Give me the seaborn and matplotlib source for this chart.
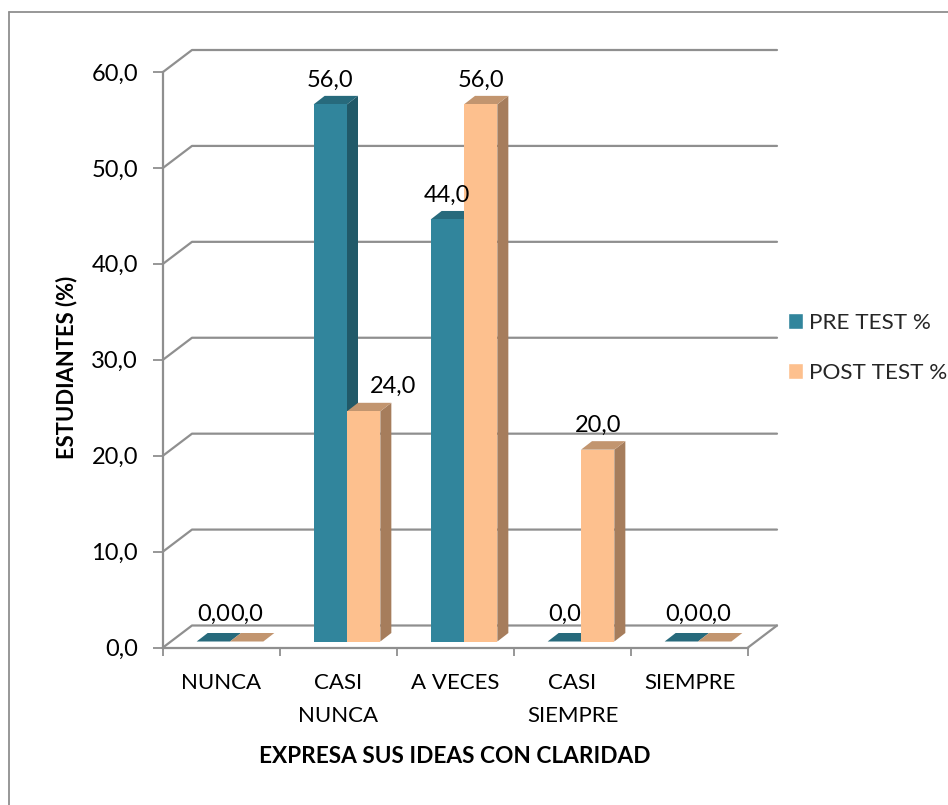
import numpy as np
import pandas as pd
import seaborn as sns
import matplotlib.pyplot as plt
from matplotlib.lines import Line2D
from matplotlib.patches import Patch

# Chart data
categories = ["NUNCA", "CASI\nNUNCA", "A VECES", "CASI\nSIEMPRE", "SIEMPRE"]
pre_test = [0, 56, 44, 0, 0]
post_test = [0, 24, 56, 20, 0]
series_names = ["PRE TEST %", "POST TEST %"]
y_ticks = [0, 10, 20, 30, 40, 50, 60]

df = pd.DataFrame({
    "cat": categories * 2,
    "value": pre_test + post_test,
    "serie": [series_names[0]] * 5 + [series_names[1]] * 5,
})

sns.set_theme(style="white")
plt.rcParams['font.family'] = ['Lato', 'DejaVu Sans']

W, H = 948, 805
GRAY = "#8f8f8f"
FRONT = ["#31859C", "#FDC08E"]
SIDE = ["#215968", "#A67D5C"]
TOP = ["#276A7C", "#C2956F"]

fig = plt.figure(figsize=(W / 100, H / 100), dpi=100)
ax = fig.add_axes([163 / W, 1 - 647.5 / H, 585 / W, 575.5 / H])

sns.barplot(data=df, x="cat", y="value", hue="serie", palette=FRONT, order=categories,
            width=0.57, gap=0, saturation=1, linewidth=0, legend=False, ax=ax)

ax.set_xlim(-0.5, 4.5)
ax.set_ylim(0, 60)

# pixel to data sizes, everything below is fake 3D
px_x = 5 / 585
px_y = 60 / 575.5
wall_dx, wall_dy = 29 * px_x, 22 * px_y
inset_dx, inset_dy = 8.5 * px_x, 6 * px_y
bar_dx, bar_dy = 11 * px_x, 8.5 * px_y

# walls and floor
for v in y_ticks:
    ax.plot([-0.5, -0.5 + wall_dx, 4.5 + wall_dx], [v, v + wall_dy, v + wall_dy],
            color=GRAY, lw=1.6, clip_on=False, zorder=1, scalex=False, scaley=False)
ax.plot([4.5, 4.5 + wall_dx], [0, wall_dy], color=GRAY, lw=1.6, clip_on=False,
        zorder=1, scalex=False, scaley=False)

# bars moved back on the floor, with side and top faces
for i, cont in enumerate(ax.containers):
    for bar in cont.patches:
        bar.set_x(bar.get_x() + inset_dx)
        bar.set_y(inset_dy)
        bar.set_zorder(3 + i * 2 + 0.5)
        bar.set_clip_on(False)
        x0 = bar.get_x()
        x1 = x0 + bar.get_width()
        y0 = bar.get_y()
        y1 = y0 + bar.get_height()
        ax.fill([x1, x1 + bar_dx, x1 + bar_dx, x1], [y0, y0 + bar_dy, y1 + bar_dy, y1],
                color=SIDE[i], lw=0, clip_on=False, zorder=3 + i * 2)
        ax.fill([x0, x1, x1 + bar_dx, x0 + bar_dx], [y1, y1, y1 + bar_dy, y1 + bar_dy],
                color=TOP[i], lw=0, clip_on=False, zorder=3 + i * 2)

# data labels (24,0 was moved by hand in the original)
for i, cont in enumerate(ax.containers):
    vals = [pre_test, post_test][i]
    for j, bar in enumerate(cont.patches):
        cx = bar.get_x() + bar.get_width() / 2
        top = bar.get_y() + bar.get_height()
        off_x = 29 * 0.72 if vals[j] == 24 else 0
        off_y = 27 * 0.72 if vals[j] == 0 else 24.5 * 0.72
        ax.annotate(f"{vals[j]:.1f}".replace(".", ","), (cx, top), xytext=(off_x, off_y),
                    textcoords="offset points", ha="center", va="center",
                    fontsize=17, color="black", zorder=10, annotation_clip=False)

# axes
sns.despine(ax=ax)
for s in ["left", "bottom"]:
    ax.spines[s].set_color(GRAY)
    ax.spines[s].set_linewidth(1.6)
    ax.spines[s].set_zorder(2)

ax.set_yticks(y_ticks)
ax.set_yticklabels([f"{v:.1f}".replace(".", ",") for v in y_ticks], fontsize=17, color="black")
ax.tick_params(axis="y", left=True, length=7, width=1.3, color=GRAY, pad=11)

ax.set_xticks(range(5))
ax.set_xticklabels(categories, fontsize=16, color="black", linespacing=1.77)
ax.set_xticks(np.arange(-0.5, 5, 1), minor=True)
ax.tick_params(axis="x", which="major", bottom=False, length=0, pad=18.5)
ax.tick_params(axis="x", which="minor", bottom=True, length=6, width=1.3, color=GRAY)

ax.set_xlabel("")
ax.set_ylabel("")
fig.text(455 / W, 1 - 756 / H, "EXPRESA SUS IDEAS CON CLARIDAD", fontsize=16.3, fontweight="bold",
         ha="center", va="center", color="black")
fig.text(67 / W, 1 - 367 / H, "ESTUDIANTES (%)", fontsize=15.8, fontweight="bold", rotation=90,
         ha="center", va="center", color="black")

# legend
handles = [Patch(facecolor=FRONT[0], label=series_names[0]), Patch(facecolor=FRONT[1], label=series_names[1])]
fig.legend(handles=handles, loc="center left", bbox_to_anchor=(784.5 / W, 1 - 348 / H), frameon=False,
           fontsize=16.2, handlelength=0.68, handleheight=0.68, handletextpad=0.28, labelspacing=1.33,
           borderpad=0.15, borderaxespad=0)

# outer chart frame, runs off the picture on the right and bottom
fig.add_artist(Line2D([8.5 / W, 8.5 / W], [0, 1 - 12.5 / H], color=GRAY, lw=1.3))
fig.add_artist(Line2D([8.5 / W, 1], [1 - 12.5 / H, 1 - 12.5 / H], color=GRAY, lw=1.3))

fig.savefig("out.png", dpi=100)
